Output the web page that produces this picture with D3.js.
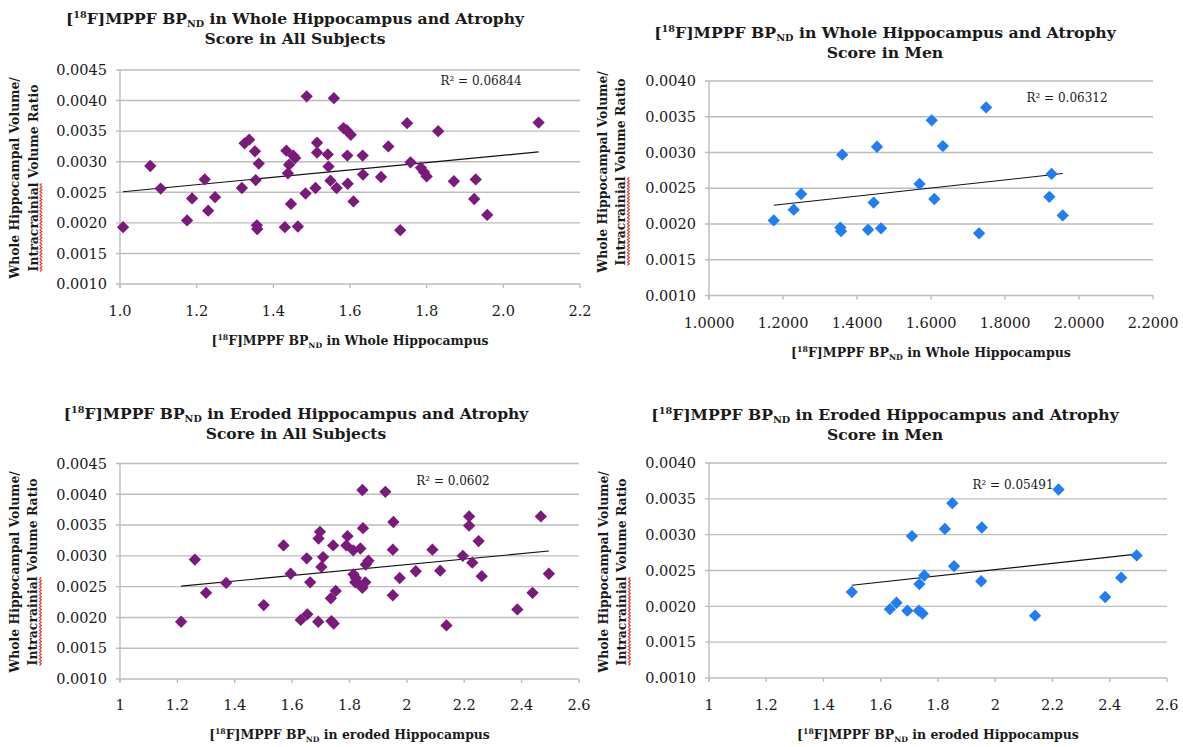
<!DOCTYPE html>
<html>
<head>
<meta charset="utf-8">
<script src="https://cdn.jsdelivr.net/npm/d3@7"></script>
<style>
  body { margin: 0; background: #fff; }
  svg { display: block; }
  text { font-family: "DejaVu Serif", "Liberation Serif", serif; fill: #1a1a1a; }
</style>
</head>
<body>
<script>
// ---- data ----
// all subjects, whole hippocampus
const allWholeX = [1.008,1.079,1.106,1.175,1.188,1.221,1.230,1.248,1.318,1.325,1.337,1.352,1.354,1.362,1.357,1.358,
  1.430,1.434,1.441,1.438,1.452,1.457,1.446,1.464,1.484,1.487,1.510,1.514,1.514,1.542,1.544,1.549,1.558,1.565,
  1.583,1.592,1.602,1.593,1.594,1.609,1.633,1.634,1.681,1.700,1.731,1.749,1.758,1.785,1.793,1.800,1.830,1.871,
  1.924,1.928,1.958,2.092];
const allWholeY = [0.00193,0.00293,0.00256,0.00204,0.00240,0.00271,0.00220,0.00242,0.00257,0.00330,0.00336,0.00317,0.00270,0.00297,0.00196,0.00190,
  0.00193,0.00318,0.00295,0.00281,0.00310,0.00306,0.00231,0.00194,0.00248,0.00407,0.00257,0.00331,0.00315,0.00312,0.00292,0.00269,0.00404,0.00257,
  0.00355,0.00351,0.00344,0.00310,0.00264,0.00235,0.00310,0.00279,0.00275,0.00325,0.00188,0.00363,0.00299,0.00290,0.00283,0.00276,0.00350,0.00268,
  0.00239,0.00271,0.00213,0.00364];

// men, whole hippocampus
const menWholeX = [1.175,1.229,1.249,1.360,1.355,1.357,1.430,1.445,1.454,1.465,1.569,1.602,1.609,1.632,1.730,1.749,1.920,1.926,1.956];
const menWholeY = [0.00205,0.00220,0.00242,0.00297,0.00195,0.00190,0.00192,0.00230,0.00308,0.00194,0.00256,0.00345,0.00235,0.00309,0.00187,0.00363,0.00238,0.00270,0.00212];

// all subjects, eroded hippocampus
const allErodedX = [1.213,1.261,1.300,1.370,1.501,1.570,1.595,1.630,1.653,1.651,1.663,1.691,1.692,1.697,1.708,1.702,
  1.735,1.752,1.737,1.745,1.743,1.789,1.793,1.813,1.838,1.847,1.845,1.814,1.822,1.820,1.838,1.845,1.857,1.866,1.855,
  1.925,1.953,1.951,1.951,1.975,2.031,2.089,2.116,2.138,2.195,2.217,2.217,2.228,2.250,2.261,2.385,2.438,2.467,2.495];
const allErodedY = [0.00193,0.00294,0.00240,0.00256,0.00220,0.00317,0.00271,0.00196,0.00205,0.00296,0.00257,0.00193,0.00328,0.00339,0.00298,0.00282,
  0.00231,0.00243,0.00194,0.00190,0.00317,0.00317,0.00332,0.00309,0.00312,0.00345,0.00407,0.00270,0.00264,0.00257,0.00252,0.00248,0.00286,0.00292,0.00257,
  0.00404,0.00355,0.00310,0.00236,0.00264,0.00275,0.00310,0.00276,0.00187,0.00300,0.00364,0.00349,0.00289,0.00324,0.00267,0.00213,0.00240,0.00364,0.00271];

// men, eroded hippocampus
const menErodedX = [1.499,1.632,1.655,1.693,1.733,1.746,1.709,1.735,1.752,1.824,1.850,1.856,1.953,1.951,2.139,2.221,2.384,2.440,2.494];
const menErodedY = [0.00220,0.00196,0.00205,0.00194,0.00194,0.00190,0.00298,0.00231,0.00243,0.00308,0.00344,0.00256,0.00310,0.00235,0.00187,0.00363,0.00213,0.00240,0.00271];

// tick values
const yTicksAll = [0.0010,0.0015,0.0020,0.0025,0.0030,0.0035,0.0040,0.0045];
const yTicksMen = [0.0010,0.0015,0.0020,0.0025,0.0030,0.0035,0.0040];
const xTicksWhole = [1.0,1.2,1.4,1.6,1.8,2.0,2.2];
const xTicksEroded = [1,1.2,1.4,1.6,1.8,2,2.2,2.4,2.6];

const r2Labels = ["R² = 0.06844", "R² = 0.06312", "R² = 0.0602", "R² = 0.05491"];

const purple = "#7a1a7b", blue = "#1f7ef4";
const gridColor = "#bdbdbd";

// ---- panel layout ----
const panels = [
  { xs: allWholeX, ys: allWholeY, xTicks: xTicksWhole, yTicks: yTicksAll, xFmt: d3.format(".1f"),
    color: purple, region: "Whole", group: "All Subjects", xTitle: " in Whole Hippocampus", r2: r2Labels[0],
    box: { l: 120, r: 580, t: 70, b: 284 }, titleX: 295, titleY: 24, titleW: 458, xTitleW: 277,
    yTitleX: 14.5, yTitleY: 178, tickY: 316, xTitleY: 345, r2X: 481, r2Y: 85 },
  { xs: menWholeX, ys: menWholeY, xTicks: xTicksWhole, yTicks: yTicksMen, xFmt: d3.format(".4f"),
    color: blue, region: "Whole", group: "Men", xTitle: " in Whole Hippocampus", r2: r2Labels[1],
    box: { l: 709, r: 1153, t: 81, b: 295.5 }, titleX: 885, titleY: 37.5, titleW: 462, xTitleW: 280,
    yTitleX: 602, yTitleY: 172, tickY: 328, xTitleY: 357, r2X: 1067, r2Y: 102 },
  { xs: allErodedX, ys: allErodedY, xTicks: xTicksEroded, yTicks: yTicksAll, xFmt: d3.format(""),
    color: purple, region: "Eroded", group: "All Subjects", xTitle: " in eroded Hippocampus", r2: r2Labels[2],
    box: { l: 120, r: 579, t: 463.5, b: 679 }, titleX: 296, titleY: 419, titleW: 465, xTitleW: 281,
    yTitleX: 14, yTitleY: 572, tickY: 710, xTitleY: 739, r2X: 453, r2Y: 485 },
  { xs: menErodedX, ys: menErodedY, xTicks: xTicksEroded, yTicks: yTicksMen, xFmt: d3.format(""),
    color: blue, region: "Eroded", group: "Men", xTitle: " in eroded Hippocampus", r2: r2Labels[3],
    box: { l: 709, r: 1167, t: 463, b: 678 }, titleX: 885, titleY: 420, titleW: 468, xTitleW: 282,
    yTitleX: 603, yTitleY: 572, tickY: 710, xTitleY: 739, r2X: 1013, r2Y: 489 }
];

const svg = d3.select("body").append("svg")
  .attr("width", 1183)
  .attr("height", 747)
  .attr("viewBox", "0 0 1183 747");

// "[18F]MPPF BP_ND" followed by the rest of the label
function mppfLabel(text, rest) {
  text.append("tspan").text("[");
  text.append("tspan").attr("font-size", "0.62em").attr("dy", "-0.6em").text("18");
  text.append("tspan").attr("dy", "0.372em").text("F]MPPF BP");
  text.append("tspan").attr("font-size", "0.62em").attr("dy", "0.35em").text("ND");
  text.append("tspan").attr("dy", "-0.217em").text(rest);
}

// scale font so the text is as wide as in the picture
function fitWidth(text, target) {
  const fs = parseFloat(text.attr("font-size"));
  const w = text.node().getComputedTextLength();
  const nfs = fs * target / w;
  text.attr("font-size", nfs.toFixed(2));
  return nfs;
}

function linFit(xs, ys) {
  const mx = d3.mean(xs), my = d3.mean(ys);
  let sxy = 0, sxx = 0;
  xs.forEach((x, i) => { sxy += (x - mx) * (ys[i] - my); sxx += (x - mx) * (x - mx); });
  const slope = sxy / sxx;
  return { slope, icpt: my - slope * mx };
}

const diamond = d3.symbol().type(d3.symbolSquare).size(76);

panels.forEach(p => {
  const b = p.box;
  const x = d3.scaleLinear().domain(d3.extent(p.xTicks)).range([b.l, b.r]);
  const y = d3.scaleLinear().domain(d3.extent(p.yTicks)).range([b.b, b.t]);
  const g = svg.append("g");

  // horizontal grid + left tick stubs
  g.append("g").selectAll("line").data(p.yTicks).join("line")
    .attr("x1", b.l - 4).attr("x2", b.r)
    .attr("y1", d => y(d)).attr("y2", d => y(d))
    .attr("stroke", gridColor).attr("stroke-width", 1.4);

  // vertical axis line
  g.append("line")
    .attr("x1", b.l).attr("x2", b.l).attr("y1", b.t).attr("y2", b.b + 4)
    .attr("stroke", gridColor).attr("stroke-width", 1.4);

  // x tick stubs
  g.append("g").selectAll("line").data(p.xTicks).join("line")
    .attr("x1", d => x(d)).attr("x2", d => x(d))
    .attr("y1", b.b).attr("y2", b.b + 4)
    .attr("stroke", gridColor).attr("stroke-width", 1.4);

  // y tick labels
  g.append("g").selectAll("text").data(p.yTicks).join("text")
    .attr("x", b.l - 13).attr("y", d => y(d)).attr("dy", "0.36em")
    .attr("text-anchor", "end").attr("font-size", 14.5)
    .text(d => d3.format(".4f")(d));

  // x tick labels
  g.append("g").selectAll("text").data(p.xTicks).join("text")
    .attr("x", d => x(d)).attr("y", p.tickY)
    .attr("text-anchor", "middle").attr("font-size", 14.5)
    .text(d => p.xFmt(d));

  // trend line
  const f = linFit(p.xs, p.ys);
  const ext = d3.extent(p.xs);
  g.append("line")
    .attr("x1", x(ext[0])).attr("y1", y(f.slope * ext[0] + f.icpt))
    .attr("x2", x(ext[1])).attr("y2", y(f.slope * ext[1] + f.icpt))
    .attr("stroke", "#111").attr("stroke-width", 1.1);

  // points
  g.append("g").selectAll("path").data(p.xs.map((v, i) => [v, p.ys[i]])).join("path")
    .attr("d", diamond)
    .attr("transform", d => `translate(${x(d[0])},${y(d[1])}) rotate(45)`)
    .attr("fill", p.color);

  // R² label
  g.append("text")
    .attr("x", p.r2X).attr("y", p.r2Y)
    .attr("text-anchor", "middle").attr("font-size", 12)
    .text(p.r2);

  // title
  const t1 = g.append("text")
    .attr("x", p.titleX).attr("y", p.titleY)
    .attr("text-anchor", "middle").attr("font-size", 16).attr("font-weight", "bold");
  mppfLabel(t1, ` in ${p.region} Hippocampus and Atrophy`);
  const tfs = fitWidth(t1, p.titleW);
  g.append("text")
    .attr("x", p.titleX).attr("y", p.titleY + 20)
    .attr("text-anchor", "middle").attr("font-size", tfs.toFixed(2)).attr("font-weight", "bold")
    .text(`Score in ${p.group}`);

  // x axis title
  const xt = g.append("text")
    .attr("x", (b.l + b.r) / 2).attr("y", p.xTitleY)
    .attr("text-anchor", "middle").attr("font-size", 13).attr("font-weight", "bold");
  mppfLabel(xt, p.xTitle);
  fitWidth(xt, p.xTitleW);

  // y axis title (two rotated lines)
  const yg = g.append("g")
    .attr("transform", `translate(${p.yTitleX},${p.yTitleY}) rotate(-90)`);
  const y1 = yg.append("text")
    .attr("x", 0).attr("y", 4.5)
    .attr("text-anchor", "middle").attr("font-size", 13).attr("font-weight", "bold")
    .text("Whole Hippocampal Volume/");
  const yfs = fitWidth(y1, 202);
  const y2 = yg.append("text")
    .attr("x", 0).attr("y", 4.5 + 18.5)
    .attr("text-anchor", "middle").attr("font-size", yfs.toFixed(2)).attr("font-weight", "bold")
    .text("Intracrainial Volume Ratio");

  // red spell-check squiggle under "Intracrainial"
  const total = y2.node().getComputedTextLength();
  const wlen = y2.node().getSubStringLength(0, 13);
  const x0 = -total / 2, base = 4.5 + 18.5 + 2.5;
  const zig = d3.range(0, Math.floor(wlen / 1.6) + 1).map(i => [x0 + i * 1.6, base + (i % 2 ? 1.8 : 0)]);
  yg.append("path")
    .attr("d", d3.line()(zig))
    .attr("fill", "none").attr("stroke", "#ec3b2c").attr("stroke-width", 1.2);
});
</script>
</body>
</html>
